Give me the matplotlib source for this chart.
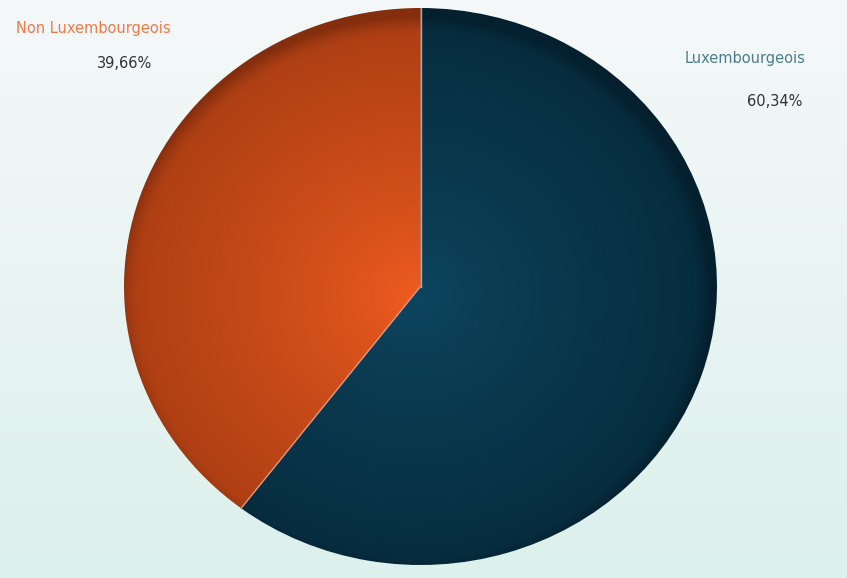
import numpy as np
import matplotlib
matplotlib.use("Agg")
import matplotlib.pyplot as plt

# Données
labels = ["Luxembourgeois", "Non Luxembourgeois"]
values = [60.34, 39.66]
pct_text = ["60,34%", "39,66%"]
label_colors = ["#4d7d8c", "#f07a4a"]
# couleurs (centre, milieu, bord) pour chaque part
shades = [
    [(13, 70, 96), (7, 46, 64), (4, 32, 46)],
    [(240, 92, 32), (176, 64, 20), (132, 46, 14)],
]

W, H = 847, 578
fig = plt.figure(figsize=(W / 100, H / 100), dpi=100)

# fond en dégradé
bg = fig.add_axes([0, 0, 1, 1])
top = np.array([245, 248, 249]) / 255
bot = np.array([220, 240, 236]) / 255
t = np.linspace(0, 1, 200)[:, None]
grad = top[None, :] * (1 - t) + bot[None, :] * t
bg.imshow(grad[:, None, :].repeat(2, axis=1), aspect="auto", extent=[0, 1, 0, 1])
bg.set_axis_off()

# camembert
left, right, ptop, pbot = 124, 717, 8, 565
ax = fig.add_axes([left / W, (H - pbot) / H, (right - left) / W, (pbot - ptop) / H])
wedges, _ = ax.pie(values, startangle=90, counterclock=False, radius=1,
                   wedgeprops=dict(linewidth=0, facecolor="none"))
ax.set_aspect("auto")
ax.set_xlim(-1, 1)
ax.set_ylim(-1, 1)
ax.set_axis_off()

n = 600
xx, yy = np.meshgrid(np.linspace(-1, 1, n), np.linspace(-1, 1, n))
rr = np.clip(np.hypot(xx + 0.02, yy + 0.03), 0, 1)


def shade(c0, c1, c2):
    c0, c1, c2 = [np.array(c) / 255 for c in (c0, c1, c2)]
    a = np.clip(rr / 0.93, 0, 1)[..., None] ** 0.8
    img = c0 * (1 - a) + c1 * a
    b = np.clip((rr - 0.93) / 0.07, 0, 1)[..., None] ** 1.5
    return img * (1 - b) + c2 * b


for w, s in zip(wedges, shades):
    im = ax.imshow(shade(*s), extent=[-1, 1, -1, 1], origin="lower",
                   aspect="auto", zorder=1)
    im.set_clip_path(w)

# traits de séparation
ang = 90 - np.cumsum([0] + values[:-1]) * 3.6
for a in ang:
    r = np.radians(a)
    ax.plot([0, np.cos(r)], [0, np.sin(r)], color="#d89a86", lw=1, zorder=3)

# étiquettes
fs = 10.5
fig.text(685 / W, 1 - 58 / H, labels[0], color=label_colors[0], fontsize=fs,
         ha="left", va="center")
fig.text(747 / W, 1 - 101 / H, pct_text[0], color="#333333", fontsize=fs,
         ha="left", va="center")
fig.text(16 / W, 1 - 28 / H, labels[1], color=label_colors[1], fontsize=fs,
         ha="left", va="center")
fig.text(97 / W, 1 - 63 / H, pct_text[1], color="#333333", fontsize=fs,
         ha="left", va="center")

fig.savefig("out.png", dpi=100)
